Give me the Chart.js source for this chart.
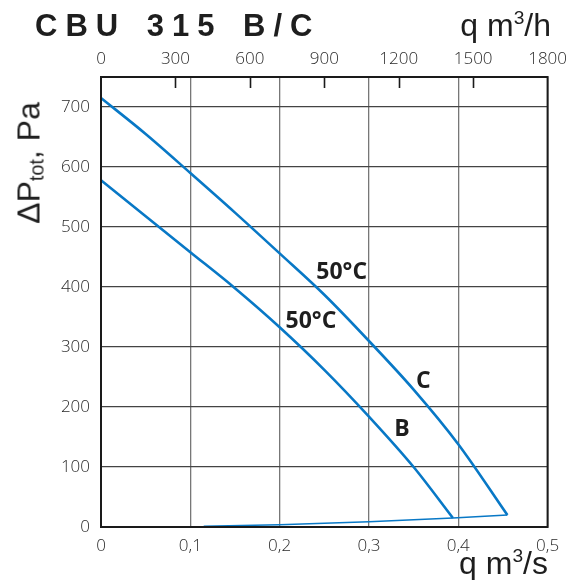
<!DOCTYPE html>
<html>
<head>
<meta charset="utf-8">
<script src="https://cdn.jsdelivr.net/npm/chart.js@4.4.1/dist/chart.umd.min.js"></script>
<style>
  html, body { margin: 0; padding: 0; background: #fff; }
  #wrap { position: relative; width: 575px; height: 580px; overflow: hidden; }
  .txt { position: absolute; color: #1e1e1e; font-family: "Liberation Sans", Arial, sans-serif; white-space: nowrap; }
  #title { left: 35px; top: 8px; font-size: 31px; font-weight: bold; letter-spacing: 8px; word-spacing: 4px; }
  #unitTop { right: 24px; top: 7px; font-size: 32px; }
  #unitBot { right: 27px; top: 545px; font-size: 32px; }
  #yTitle { left: 29px; top: 163px; font-size: 32px; transform: translate(-50%, -50%) rotate(-90deg); }
  sup { font-size: 60%; vertical-align: 0.62em; line-height: 0; }
  sub { font-size: 62%; vertical-align: -0.2em; line-height: 0; }
</style>
</head>
<body>
<div id="wrap">
  <canvas id="chart" width="575" height="580"></canvas>
  <div class="txt" id="title">CBU 315 B/C</div>
  <div class="txt" id="unitTop">q m<sup>3</sup>/h</div>
  <div class="txt" id="unitBot">q m<sup>3</sup>/s</div>
  <div class="txt" id="yTitle">ΔP<sub>tot</sub>, Pa</div>
</div>
<script>
// CBU 315 B/C fan curves: total pressure vs air flow.
// Curves.

const qC  = [0, 0.05, 0.10, 0.15, 0.20, 0.25, 0.30, 0.35, 0.40, 0.455];
const dpC = [715, 655, 590, 524, 456, 387, 310, 229, 138, 20];

const qB  = [0, 0.05, 0.10, 0.15, 0.20, 0.25, 0.30, 0.35, 0.394];
const dpB = [578, 518, 458, 398, 333, 262, 184, 100, 15];

// system (duct) line joining the curve ends
const qSys  = [0.115, 0.20, 0.30, 0.394, 0.455];
const dpSys = [1.3, 3.8, 8.6, 15, 20];

const xTicksTop = [300, 600, 900, 1200, 1500];

// curve annotations, anchored in data units (q, Pa)
const notes = [
  { text: '50°C', q: 0.2695, dp: 425 },
  { text: '50°C', q: 0.235,  dp: 342 },
  { text: 'C',    q: 0.361,  dp: 243 },
  { text: 'B',    q: 0.337,  dp: 162 },
];

const BLUE = '#0878c6';
const TICK_FONT = { family: '"Open Sans", "DejaVu Sans", sans-serif', size: 17, weight: '300' };

function toXY(xs, ys) {
  return xs.map((x, i) => ({ x, y: ys[i] }));
}

// frame + inward ticks on the m3/h axis
const framePlugin = {
  id: 'frame',
  afterDraw(chart) {
    const { ctx, chartArea: a } = chart;
    const top = chart.scales.x2;
    ctx.save();
    ctx.strokeStyle = '#1a1a1a';
    ctx.lineWidth = 1.6;
    for (const v of xTicksTop) {
      const px = Math.round(top.getPixelForValue(v)) + 0.5;
      ctx.beginPath();
      ctx.moveTo(px, a.top);
      ctx.lineTo(px, a.top + 11);
      ctx.stroke();
    }
    ctx.lineWidth = 2;
    ctx.strokeRect(a.left, a.top, a.right - a.left, a.bottom - a.top);
    ctx.restore();
  },
};

const notesPlugin = {
  id: 'notes',
  afterDatasetsDraw(chart) {
    const { ctx, scales } = chart;
    ctx.save();
    ctx.fillStyle = '#1e1e1e';
    ctx.font = 'bold 23px "Open Sans", "DejaVu Sans", sans-serif';
    ctx.textAlign = 'center';
    ctx.textBaseline = 'middle';
    for (const n of notes) {
      ctx.fillText(n.text, scales.x.getPixelForValue(n.q), scales.y.getPixelForValue(n.dp));
    }
    ctx.restore();
  },
};

const lineStyle = (w) => ({
  borderColor: BLUE,
  borderWidth: w,
  pointRadius: 0,
  fill: false,
  clip: false,
});

new Chart(document.getElementById('chart'), {
  type: 'line',
  data: {
    datasets: [
      { label: 'C', data: toXY(qC, dpC), cubicInterpolationMode: 'monotone', ...lineStyle(2.6) },
      { label: 'B', data: toXY(qB, dpB), cubicInterpolationMode: 'monotone', ...lineStyle(2.6) },
      { label: 'system', data: toXY(qSys, dpSys), tension: 0, ...lineStyle(1.5) },
    ],
  },
  options: {
    responsive: false,
    animation: false,
    devicePixelRatio: 1,
    layout: { padding: { top: 0, right: 24, bottom: 0, left: 0 } },
    plugins: { legend: { display: false }, tooltip: { enabled: false } },
    scales: {
      x: {
        type: 'linear',
        position: 'bottom',
        min: 0,
        max: 0.5,
        afterFit: s => { s.height = 53; },
        ticks: {
          stepSize: 0.1,
          color: '#2a2a2a',
          font: TICK_FONT,
          padding: 9,
          maxRotation: 0,
          callback: v => (v === 0 ? '0' : v.toFixed(1).replace('.', ',')),
        },
        grid: { color: '#777', lineWidth: 1.3, drawTicks: false },
        border: { display: false },
      },
      x2: {
        type: 'linear',
        position: 'top',
        min: 0,
        max: 1800,
        afterFit: s => { s.height = 77; },
        ticks: {
          stepSize: 300,
          color: '#2a2a2a',
          font: TICK_FONT,
          padding: 8,
          maxRotation: 0,
          callback: v => String(v),
        },
        grid: { display: false, drawTicks: false },
        border: { display: false },
      },
      y: {
        type: 'linear',
        min: 0,
        max: 750,
        afterFit: s => { s.width = 101; },
        afterBuildTicks: s => { s.ticks = s.ticks.filter(t => t.value <= 700); },
        ticks: {
          stepSize: 100,
          color: '#2a2a2a',
          font: TICK_FONT,
          padding: 11,
        },
        grid: { color: '#444', lineWidth: 1.3, drawTicks: false },
        border: { display: false },
      },
    },
  },
  plugins: [framePlugin, notesPlugin],
});
</script>
</body>
</html>
